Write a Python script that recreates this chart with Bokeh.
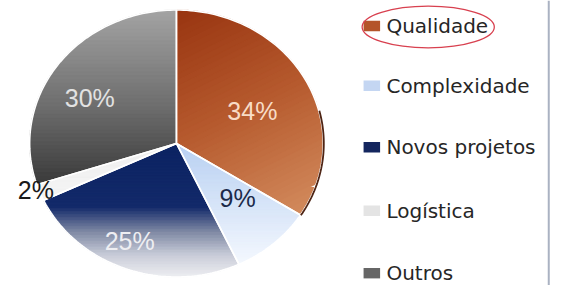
import numpy as np
from bokeh.plotting import figure
from bokeh.models import Range1d, Span
from bokeh.core.properties import value
from bokeh.embed import file_html
from bokeh.resources import INLINE

# ---- data ----
categories = ["Qualidade", "Complexidade", "Novos projetos", "Logística", "Outros"]
shares = [34, 9, 25, 2, 30]
pct_labels = ["34%", "9%", "25%", "2%", "30%"]

# ---- styles ----
grad_dirs = [(0.45, 0.89), (0.0, 1.0), (0.0, 1.0), (0.0, 1.0), (0.0, 1.0)]
grad_stops = [
    [(0.0, "#983410"), (0.5, "#b65a2e"), (1.0, "#d28a5c")],
    [(0.0, "#b8d0f2"), (1.0, "#f4f8fe")],
    [(0.0, "#0b2362"), (0.48, "#132a6a"), (0.66, "#7c86a2"), (0.84, "#c8ccd8"), (1.0, "#ededf1")],
    [(0.0, "#f0f0f0"), (1.0, "#f4f4f4")],
    [(0.0, "#a4a4a4"), (0.55, "#6e6e6e"), (1.0, "#3a3a3a")],
]
swatch_colors = ["#b4542a", "#c4d6f2", "#14265e", "#e4e4e4", "#666666"]
label_colors = ["#f8dcc6", "#1c2a4a", "#eeeef2", "#1a1a1a", "#e2e2e2"]
label_f = [(0.59, 0.51), (0.63, 0.54), (0.94, 0.78), (1.03, 0.94), (0.73, 0.58)]
legend_y = [27, 90, 155, 222, 288]

cx, cy, rx, ry = 181.0, 151.0, 151.0, 141.0

p = figure(width=557, height=285, output_backend="svg", toolbar_location=None,
           x_range=Range1d(0, 573), y_range=Range1d(301, 0),
           x_axis_location=None, y_axis_location=None, min_border=0)
p.grid.visible = False
p.outline_line_color = None
p.background_fill_color = "white"


def hex2rgb(h):
    return np.array([int(h[i:i + 2], 16) for i in (1, 3, 5)], dtype=float)


def interp(stops, t):
    for (t0, c0), (t1, c1) in zip(stops[:-1], stops[1:]):
        if t <= t1:
            f = 0 if t1 == t0 else (t - t0) / (t1 - t0)
            c = hex2rgb(c0) * (1 - f) + hex2rgb(c1) * f
            return "#%02x%02x%02x" % tuple(int(round(v)) for v in c)
    return stops[-1][1]


def slice_poly(a0, a1, n=90):
    th = np.linspace(a0, a1, n)
    xs = np.concatenate([[cx], cx + rx * np.sin(th)])
    ys = np.concatenate([[cy], cy - ry * np.cos(th)])
    return list(zip(xs, ys))


def clip(poly, nx, ny, c):
    out = []
    n = len(poly)
    for i in range(n):
        a = poly[i]
        b = poly[(i + 1) % n]
        da = nx * a[0] + ny * a[1] - c
        db = nx * b[0] + ny * b[1] - c
        if da <= 0:
            out.append(a)
        if (da < 0 < db) or (db < 0 < da):
            t = da / (da - db)
            out.append((a[0] + t * (b[0] - a[0]), a[1] + t * (b[1] - a[1])))
    return out


total = float(sum(shares))
bounds = np.concatenate([[0], np.cumsum(shares)]) / total * 2 * np.pi

band_xs, band_ys, band_cols = [], [], []
out_xs, out_ys = [], []
for i in range(len(shares)):
    a0, a1 = bounds[i], bounds[i + 1]
    poly = slice_poly(a0, a1)
    out_xs.append([q[0] for q in poly])
    out_ys.append([q[1] for q in poly])
    dx, dy = grad_dirs[i]
    ts = [q[0] * dx + q[1] * dy for q in poly]
    tmin, tmax = min(ts), max(ts)
    K = 45
    edges = np.linspace(tmin, tmax, K + 1)
    for k in range(K):
        lo, hi = edges[k] - 0.4, edges[k + 1] + 0.4
        part = clip(poly, dx, dy, hi)
        part = clip(part, -dx, -dy, -lo) if part else part
        if len(part) < 3:
            continue
        band_xs.append([q[0] for q in part])
        band_ys.append([q[1] for q in part])
        band_cols.append(interp(grad_stops[i], (k + 0.5) / K))

p.patches(band_xs, band_ys, fill_color=band_cols, line_color=band_cols, line_width=0.6)
p.patches(out_xs, out_ys, fill_alpha=0, line_color="white", line_width=1.6)

# darker rim on the right edge of the first slice
a0, a1 = bounds[0], bounds[1]
th = np.linspace(a0 + 0.62 * (a1 - a0), a1, 40)
p.line(cx + (rx + 0.6) * np.sin(th), cy - (ry + 0.6) * np.cos(th), line_color="#4e2414", line_width=1.8)

# percentage labels
mids = (bounds[:-1] + bounds[1:]) / 2
lx = [cx + rx * f[0] * np.sin(m) for f, m in zip(label_f, mids)]
ly = [cy - ry * f[1] * np.cos(m) for f, m in zip(label_f, mids)]
p.text(lx, ly, text=pct_labels, text_color=label_colors, text_align="center",
       text_baseline="middle", text_font=value("Liberation Sans"), text_font_size="25px")

# legend
p.rect([382] * len(categories), legend_y, width=17, height=11, fill_color=swatch_colors, line_color=None)
p.text([397] * len(categories), legend_y, text=categories, text_color="#262626",
       text_align="left", text_baseline="middle", text_font=value("DejaVu Sans"),
       text_font_size="20px")

# red highlight ellipse around the first legend entry
p.ellipse([440], [legend_y[0] + 1], width=136, height=44, fill_alpha=0,
          line_color="#d8404f", line_width=1.3)

# right border of the chart area
p.add_layout(Span(location=564, dimension="height", line_color="#aab2c2", line_width=2))

open("out.html", "w").write(file_html(p, INLINE))
